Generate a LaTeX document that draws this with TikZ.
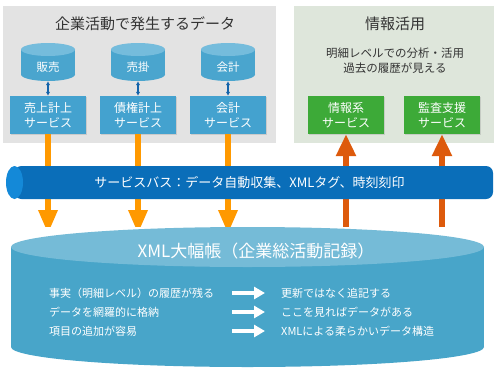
\documentclass[tikz,border=0pt]{standalone}
\usepackage{fontspec}
\setmainfont{Noto Sans CJK JP}
\usetikzlibrary{arrows.meta,shadows}
\definecolor{panelgray}{HTML}{E3E3E3}
\definecolor{panelgreen}{HTML}{DEE6DB}
\definecolor{boxblue}{HTML}{44A2CF}
\definecolor{dbbody}{HTML}{4AA5CE}
\definecolor{dbtop}{HTML}{75BCDC}
\definecolor{boxgreen}{HTML}{3DAA38}
\definecolor{busblue}{HTML}{0A6EB9}
\definecolor{buscap}{HTML}{1489D8}
\definecolor{tankbody}{HTML}{48A5C9}
\definecolor{tanktop}{HTML}{75BBD7}
\definecolor{flowin}{HTML}{FF9900}
\definecolor{flowout}{HTML}{DD5A0C}
\definecolor{linkblue}{HTML}{1464AA}
\definecolor{textgray}{HTML}{333333}

\begin{document}
\begin{tikzpicture}[x=1pt, y=-1pt,
  panel/.style={inner sep=0pt, anchor=north west},
  title/.style={text=textgray, font=\fontsize{15}{18}\selectfont},
  note/.style={text=textgray, align=center, font=\fontsize{11.5}{15}\selectfont},
  svc/.style={fill=boxblue, text=white, align=center, minimum width=76pt, minimum height=38pt, inner sep=0pt, font=\fontsize{12}{15}\selectfont, drop shadow={shadow xshift=0.8pt, shadow yshift=-0.8pt, opacity=0.25}},
  db/.style={minimum width=54pt, minimum height=38pt, inner sep=0pt, path picture={
    \fill[dbbody] ([yshift=-6.5pt]path picture bounding box.north west) rectangle ([yshift=6.5pt]path picture bounding box.south east);
    \fill[dbbody] ([yshift=6.5pt]path picture bounding box.south) ellipse [x radius=27pt, y radius=6.5pt];
    \fill[dbtop] ([yshift=-6.5pt]path picture bounding box.north) ellipse [x radius=27pt, y radius=6.5pt];}},
  dbtext/.style={text=white, yshift=-5pt, font=\fontsize{11.5}{14}\selectfont},
  bus/.style={fill=white, minimum width=487pt, minimum height=33pt, inner sep=0pt, text=white, font=\fontsize{13}{16}\selectfont, path picture={
    \fill[busblue, rounded corners=7pt] ([xshift=8.5pt]path picture bounding box.south west) rectangle (path picture bounding box.north east);
    \fill[buscap] ([xshift=8.5pt]path picture bounding box.west) ellipse [x radius=8.5pt, y radius=16.5pt];}},
  tank/.style={fill=white, minimum width=473pt, minimum height=140pt, inner sep=0pt, path picture={
    \fill[tankbody] ([yshift=-20pt]path picture bounding box.north west) rectangle ([yshift=20pt]path picture bounding box.south east);
    \fill[tankbody] ([yshift=20pt]path picture bounding box.south) ellipse [x radius=236.5pt, y radius=20pt];
    \fill[tanktop] ([yshift=-20pt]path picture bounding box.north) ellipse [x radius=236.5pt, y radius=20pt];}},
  row/.style={text=white, anchor=west, inner sep=0pt, font=\fontsize{11}{13}\selectfont},
  link/.style={{Latex[length=4pt,width=4.5pt]}-{Latex[length=4pt,width=4.5pt]}, linkblue, line width=1.3pt},
  indata/.style={-{Triangle[length=24pt,width=18pt]}, flowin, line width=6.5pt},
  outdata/.style={-{Triangle[length=22pt,width=19pt]}, flowout, line width=6.3pt},
  fat/.style={-{Triangle[length=11pt,width=12pt]}, white, line width=4.5pt, shorten >=16pt}
]
\path[use as bounding box, fill=white] (0,0) rectangle (500,380);
\node[panel, fill=panelgray, minimum width=273pt, minimum height=137pt] (src) at (3,6) {};
\node[panel, fill=panelgreen, minimum width=200pt, minimum height=137pt] (use) at (294,6) {};
\node[title] (srctitle) at (145,24) {企業活動で発生するデータ};
\node[title] (usetitle) at (395,24) {情報活用};
\node[note] (usenote) at (395,60.5) {明細レベルでの分析・活用\\過去の履歴が見える};
\node[db, label={[dbtext]center:販売}] (hanbai) at (48,62) {};
\node[db, label={[dbtext]center:売掛}] (urikake) at (138,62) {};
\node[db, label={[dbtext]center:会計}] (kaikei) at (228,62) {};
\node[svc] (s1) at (48,115) {売上計上\\サービス};
\node[svc] (s2) at (138,115) {債権計上\\サービス};
\node[svc] (s3) at (228,115) {会計\\サービス};
\node[svc, fill=boxgreen] (g1) at (346,115) {情報系\\サービス};
\node[svc, fill=boxgreen] (g2) at (442,115) {監査支援\\サービス};
\draw[link] (hanbai.south) -- (s1.north);
\draw[link] (urikake.south) -- (s2.north);
\draw[link] (kaikei.south) -- (s3.north);
\coordinate (inlet) at (0,234);
\coordinate (outlet) at (0,240);
\draw[indata] (s1.south) -- (s1.south |- inlet);
\draw[indata] (s2.south) -- (s2.south |- inlet);
\draw[indata] (s3.south) -- (s3.south |- inlet);
\draw[outdata] (g1.south |- outlet) -- (g1.south);
\draw[outdata] (g2.south |- outlet) -- (g2.south);
\node[bus] (bus) at (249.5,182.5) {サービスバス：データ自動収集、XMLタグ、時刻刻印};
\node[tank] (ledger) at (247.5,297) {};
\node[text=white, font=\fontsize{17}{20}\selectfont] (ledgertitle) at (256,251) {XML大幅帳（企業総活動記録）};
\node[row, text width=183pt] (f1) at (49,293) {事実（明細レベル）の履歴が残る};
\node[row, text width=183pt] (f2) at (49,312) {データを網羅的に格納};
\node[row, text width=183pt] (f3) at (49,331) {項目の追加が容易};
\node[row] (r1) at (281,293) {更新ではなく追記する};
\node[row] (r2) at (281,312) {ここを見ればデータがある};
\node[row] (r3) at (281,331) {XMLによる柔らかいデータ構造};
\draw[fat] (f1.east) -- (r1.west);
\draw[fat] (f2.east) -- (r2.west);
\draw[fat] (f3.east) -- (r3.west);
\end{tikzpicture}
\end{document}
